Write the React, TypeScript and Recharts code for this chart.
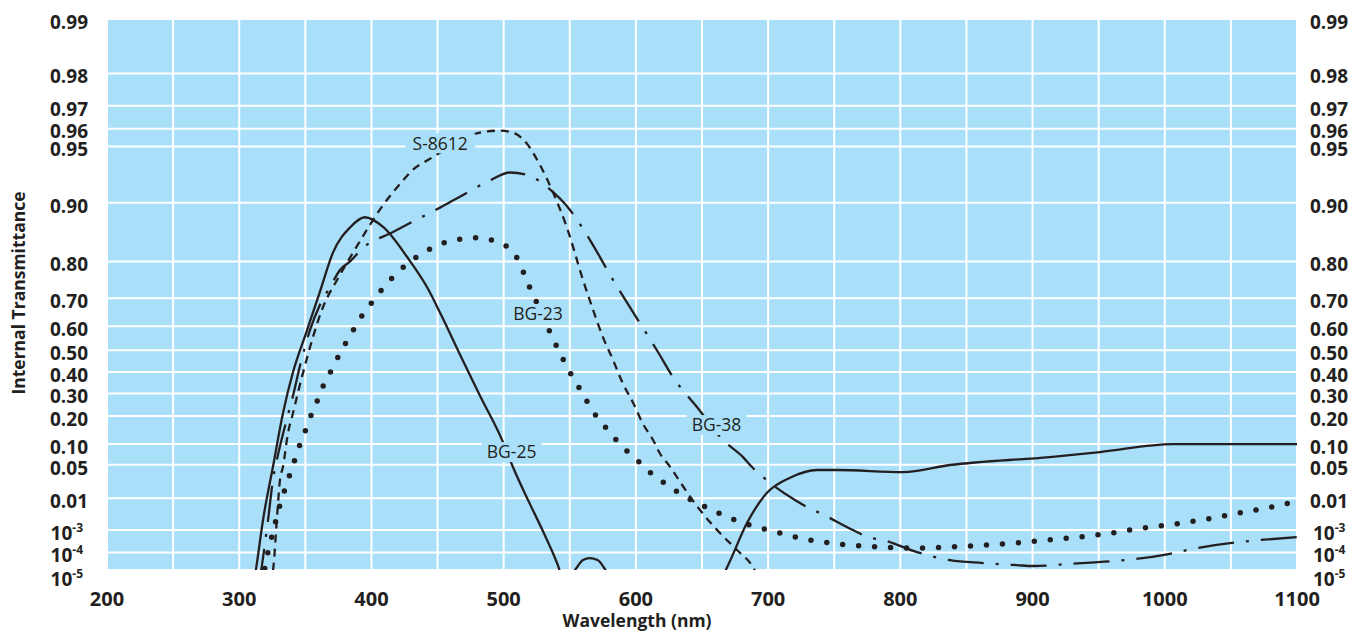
import React from "react";
import { LineChart, Line, XAxis, YAxis, CartesianGrid, ReferenceDot } from "recharts";

// wavelength axis (nm), grid every 50, labels every 100
const xTicks = [200, 250, 300, 350, 400, 450, 500, 550, 600, 650, 700, 750, 800, 850, 900, 950, 1000, 1050, 1100];

// internal transmittance gridlines
const yTickValues = [0.99, 0.98, 0.97, 0.96, 0.95, 0.9, 0.8, 0.7, 0.6, 0.5, 0.4, 0.3, 0.2, 0.1, 0.05, 0.01, 1e-3, 1e-4, 1e-5];
const yTickLabels = ["0.99", "0.98", "0.97", "0.96", "0.95", "0.90", "0.80", "0.70", "0.60", "0.50", "0.40", "0.30", "0.20", "0.10", "0.05", "0.01", "10^-3", "10^-4", "10^-5"];

// BG-25 (solid)
const bg25Nm = [311, 313.4, 318, 325.5, 333, 340.7, 351, 361, 371, 384, 395, 409, 427, 442, 452, 467, 482, 499.5, 507, 520, 530, 541, 546, 554, 560, 565, 571, 577, 583, 662, 669.7, 684, 699, 716.6, 737, 752, 802, 837.6, 913, 951, 1006, 1100];
const bg25T = [1e-6, 2.7e-5, 2.3e-3, 0.046, 0.21, 0.4, 0.58, 0.72, 0.82, 0.866, 0.881, 0.866, 0.81, 0.734, 0.65, 0.48, 0.29, 0.106, 0.0456, 6.9e-3, 8.4e-4, 2e-5, 1e-6, 1e-5, 4e-5, 5e-5, 4e-5, 1e-5, 1e-6, 1e-6, 2e-5, 1.8e-3, 0.0135, 0.029, 0.0405, 0.0405, 0.0372, 0.0494, 0.0661, 0.0782, 0.1, 0.1];

// S-8612 (short dash)
const s8612Nm = [324, 326, 328.6, 330.8, 333.1, 336.9, 340.7, 344.5, 348.2, 355.8, 363.4, 374, 386, 396.6, 408.7, 424, 431, 443, 460, 482, 497, 507, 517.7, 527.5, 537.3, 547.9, 560, 567.6, 575, 582.7, 590, 598, 605, 613, 618, 626, 636, 648.5, 663.6, 676.5, 688.6, 695];
const s8612T = [1e-6, 2e-5, 2.9e-3, 0.026, 0.046, 0.136, 0.213, 0.306, 0.395, 0.557, 0.671, 0.754, 0.819, 0.862, 0.897, 0.924, 0.933, 0.941, 0.95, 0.958, 0.959, 0.958, 0.9516, 0.937, 0.912, 0.865, 0.754, 0.661, 0.557, 0.456, 0.348, 0.256, 0.172, 0.1125, 0.0757, 0.0456, 0.0186, 4.75e-3, 7.6e-4, 1.34e-4, 1.5e-5, 1e-6];

// BG-38 (dash-dot)
const bg38Nm = [315, 317.2, 321.8, 325.5, 329.3, 334.6, 340.7, 346, 353.5, 361, 368.7, 376.2, 383.8, 393.6, 416.3, 429.2, 451.9, 465.5, 489.7, 504.8, 520, 532.8, 550.2, 565.3, 582.7, 601.6, 616.7, 628, 646.2, 665.9, 681, 687.8, 696.1, 720.3, 729.4, 739.3, 764.2, 775.6, 786.9, 812.6, 837.6, 862.5, 888.2, 900.3, 926, 998.7, 1024.4, 1100];
const bg38T = [1e-6, 2e-5, 2.3e-3, 0.026, 0.071, 0.16, 0.29, 0.43, 0.585, 0.678, 0.734, 0.78, 0.8, 0.829, 0.858, 0.8725, 0.894, 0.906, 0.924, 0.931, 0.928, 0.9175, 0.891, 0.844, 0.754, 0.624, 0.492, 0.3765, 0.2385, 0.1125, 0.066, 0.0456, 0.0299, 9e-3, 5.8e-3, 3.85e-3, 1e-3, 5.2e-4, 3.9e-4, 1.06e-4, 3.9e-5, 2.67e-5, 2e-5, 1.77e-5, 2.3e-5, 7.4e-5, 1.67e-4, 5.2e-4];

// BG-23 (dotted)
const bg23Nm = [317, 319.5, 321.8, 324.8, 327.8, 330.8, 334.6, 338.4, 342.2, 346, 350.5, 355, 359.6, 364.1, 370.2, 375.5, 381.5, 387.6, 393.6, 401.2, 408.7, 416.3, 425.4, 435.2, 445.8, 457.1, 468.5, 479.8, 491.2, 501.8, 509.3, 514.6, 519.9, 525.2, 535, 540.3, 545.6, 551.7, 557.7, 563.8, 570.6, 578.2, 586.5, 594.8, 603.5, 613, 622.8, 632.6, 643.2, 654.5, 665.9, 677.2, 688.6, 699.9, 712, 724.1, 736.2, 748.3, 760.4, 772.5, 784.6, 808.8, 838.3, 862.5, 886.7, 910.9, 935.1, 959.3, 983.5, 1007.7, 1031.9, 1056.2, 1080.4, 1100];
const bg23T = [1e-6, 1.5e-5, 1.06e-4, 5.8e-4, 2.29e-3, 6.6e-3, 0.0167, 0.0342, 0.0616, 0.1002, 0.1497, 0.2128, 0.2742, 0.3437, 0.414, 0.478, 0.54, 0.597, 0.646, 0.691, 0.731, 0.762, 0.79, 0.812, 0.829, 0.8405, 0.846, 0.848, 0.844, 0.833, 0.812, 0.777, 0.731, 0.684, 0.577, 0.514, 0.451, 0.381, 0.32, 0.256, 0.196, 0.15, 0.106, 0.0757, 0.053, 0.0327, 0.0216, 0.0135, 8.5e-3, 5.45e-3, 3.3e-3, 2.1e-3, 1.41e-3, 1e-3, 6.96e-4, 4.75e-4, 3.5e-4, 2.87e-4, 2.3e-4, 2.09e-4, 1.87e-4, 1.67e-4, 1.87e-4, 2.3e-4, 2.87e-4, 3.9e-4, 5.2e-4, 7.6e-4, 1.19e-3, 1.67e-3, 2.48e-3, 3.85e-3, 5.8e-3, 8.5e-3];

// curve name tags
const curveLabels = ["S-8612", "BG-23", "BG-38", "BG-25"];
const labelNm = [452, 526, 661, 506];
const labelT = [0.952, 0.646, 0.1645, 0.0782];

// transmittance axis is linear in -log10(-ln T)
const toY = (t: number) => -Math.log10(-Math.log(t));
const toSeries = (nm: number[], t: number[]) => nm.map((w, i) => ({ nm: w, y: toY(t[i]) }));

const INK = "#231f20";
const FONT = "'Open Sans', sans-serif";
const BG = "#aadff9";

const yDomain = [toY(1e-5), toY(0.99)];
const yTicks = yTickValues.map(toY);

function YTick(props: any) {
  const { x, y, payload, side } = props;
  const i = yTicks.findIndex((v) => Math.abs(v - payload.value) < 1e-9);
  const label = yTickLabels[i] ?? "";
  const shift = i === yTicks.length - 1 ? 9 : 3;
  const m = label.match(/^10\^(-\d+)$/);
  const dx = m ? (side === "left" ? -5 : 3) : 0;
  return (
    <text
      x={x + dx}
      y={y + shift}
      dy="0.36em"
      textAnchor={side === "left" ? "end" : "start"}
      fontFamily={FONT}
      fontWeight={700}
      fontSize={19}
      fill={INK}
    >
      {m ? (
        <>
          <tspan>10</tspan>
          <tspan dy={-8} fontSize={12}>
            {m[1]}
          </tspan>
        </>
      ) : (
        label
      )}
    </text>
  );
}

function XTick(props: any) {
  const { x, y, payload } = props;
  if (payload.value % 100 !== 0) return <g />;
  return (
    <text x={x} y={y} dy="0.71em" textAnchor="middle" fontFamily={FONT} fontWeight={700} fontSize={20} fill={INK}>
      {payload.value}
    </text>
  );
}

function TagBox(props: any) {
  const { cx, cy, text } = props;
  const w = text.length * 10 + 10;
  return (
    <g>
      <rect x={cx - w / 2} y={cy - 10} width={w} height={20} fill={BG} />
      <text x={cx} y={cy} dy="0.36em" textAnchor="middle" fontFamily={FONT} fontSize={17.5} fill={INK}>
        {text}
      </text>
    </g>
  );
}

export default function App() {
  return (
    <div style={{ position: "absolute", left: 0, top: 0, width: 1370, height: 642, background: "#fff" }}>
      <LineChart width={1370} height={642} margin={{ top: 19, right: 13, bottom: 42, left: 27 }}>
        <CartesianGrid stroke="#ffffff" strokeWidth={2} fill={BG} fillOpacity={1} />
        <XAxis
          type="number"
          dataKey="nm"
          domain={[200, 1100]}
          ticks={xTicks}
          interval={0}
          height={30}
          axisLine={false}
          tickLine={false}
          tickSize={0}
          tickMargin={22}
          tick={(p: any) => <XTick {...p} />}
          label={() => (
            <text x={637} y={627} textAnchor="middle" fontFamily={FONT} fontWeight={700} fontSize={17.5} fill={INK}>
              Wavelength (nm)
            </text>
          )}
        />
        <YAxis
          type="number"
          domain={yDomain}
          ticks={yTicks}
          interval={0}
          allowDataOverflow
          width={80}
          axisLine={false}
          tickLine={false}
          tickSize={0}
          tickMargin={19}
          tick={(p: any) => <YTick {...p} side="left" />}
          label={() => (
            <text
              x={25}
              y={293}
              transform="rotate(-90, 25, 293)"
              textAnchor="middle"
              fontFamily={FONT}
              fontWeight={700}
              fontSize={17.5}
              fill={INK}
            >
              Internal Transmittance
            </text>
          )}
        />
        <YAxis
          yAxisId="right"
          orientation="right"
          type="number"
          domain={yDomain}
          ticks={yTicks}
          interval={0}
          allowDataOverflow
          width={60}
          axisLine={false}
          tickLine={false}
          tickSize={0}
          tickMargin={13}
          tick={(p: any) => <YTick {...p} side="right" />}
        />
        <Line
          data={toSeries(bg25Nm, bg25T)}
          dataKey="y"
          type="monotone"
          stroke={INK}
          strokeWidth={2.3}
          dot={false}
          activeDot={false}
          isAnimationActive={false}
        />
        <Line
          data={toSeries(s8612Nm, s8612T)}
          dataKey="y"
          type="monotone"
          stroke={INK}
          strokeWidth={2.3}
          strokeDasharray="8 6"
          dot={false}
          activeDot={false}
          isAnimationActive={false}
        />
        <Line
          data={toSeries(bg38Nm, bg38T)}
          dataKey="y"
          type="monotone"
          stroke={INK}
          strokeWidth={2.3}
          strokeDasharray="36 12 3 12"
          dot={false}
          activeDot={false}
          isAnimationActive={false}
        />
        <Line
          data={toSeries(bg23Nm, bg23T)}
          dataKey="y"
          type="monotone"
          stroke={INK}
          strokeWidth={5.5}
          strokeLinecap="round"
          strokeDasharray="0 16"
          dot={false}
          activeDot={false}
          isAnimationActive={false}
        />
        {curveLabels.map((name, i) => (
          <ReferenceDot
            key={name}
            x={labelNm[i]}
            y={toY(labelT[i])}
            r={0}
            isFront
            shape={(p: any) => <TagBox cx={p.cx} cy={p.cy} text={name} />}
          />
        ))}
      </LineChart>
    </div>
  );
}
